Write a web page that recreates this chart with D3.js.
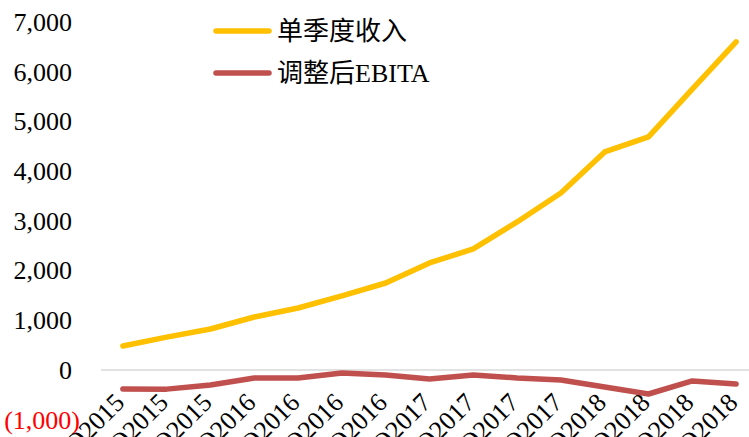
<!DOCTYPE html>
<html>
<head>
<meta charset="utf-8">
<script src="https://cdn.jsdelivr.net/npm/d3@7"></script>
<style>
    body { margin: 0; background: #fff; overflow: hidden; }
    svg { display: block; }
    text { font-family: "Liberation Serif", "Noto Sans CJK SC", serif; }
</style>
</head>
<body>
<svg id="chart"></svg>
<script>
const width = 749;
const height = 437;

// Quarter labels
const quarters = ['2Q2015', '3Q2015', '4Q2015', '1Q2016', '2Q2016', '3Q2016', '4Q2016',
    '1Q2017', '2Q2017', '3Q2017', '4Q2017', '1Q2018', '2Q2018', '3Q2018', '4Q2018'];

// Series values
const revenue = [483, 660, 825, 1066, 1247, 1489, 1750, 2153, 2435, 2978, 3561, 4386, 4688, 5650, 6600];
const ebita = [-382, -385, -302, -161, -161, -60, -100, -181, -100, -161, -201, -342, -483, -221, -282];

const seriesNames = ['单季度收入', '调整后EBITA'];
const seriesColors = ['#FFC000', '#C0504D'];
const yTicks = [-1000, 0, 1000, 2000, 3000, 4000, 5000, 6000, 7000];

const svg = d3.select("#chart")
    .attr("width", width)
    .attr("height", height);

const x = d3.scaleBand()
    .domain(quarters)
    .range([101, 758]);

const y = d3.scaleLinear()
    .domain([-1000, 7000])
    .range([419.7, 22]);

// zero line
svg.append("line")
    .attr("x1", 101)
    .attr("x2", width)
    .attr("y1", y(0))
    .attr("y2", y(0))
    .style("stroke", "#d9d9d9")
    .style("stroke-width", 1.5);

// y axis labels
const yAxis = svg.append("g")
    .attr("transform", "translate(72,0)")
    .call(d3.axisLeft(y).tickValues(yTicks).tickSize(0).tickPadding(0)
        .tickFormat(d => d < 0 ? `(${d3.format(",")(-d)})` : d3.format(",")(d)));
yAxis.select(".domain").remove();
yAxis.selectAll("text")
    .attr("x", d => d < 0 ? 8 : 0)
    .style("font-size", "26px")
    .style("font-family", "Liberation Serif")
    .style("fill", d => d < 0 ? "#ff0000" : "#000");

// x labels (rotated)
svg.selectAll(".xlabel")
    .data(quarters)
    .enter()
    .append("text")
    .attr("class", "xlabel")
    .attr("transform", d => `translate(${x(d) + x.bandwidth() / 2 + 3},404) rotate(-45)`)
    .attr("text-anchor", "end")
    .style("font-size", "26px")
    .style("fill", "#000")
    .text(d => d);

// lines
const line = d3.line()
    .x((d, i) => x(quarters[i]) + x.bandwidth() / 2)
    .y(d => y(d));

[revenue, ebita].forEach((vals, i) => {
    svg.append("path")
        .datum(vals)
        .attr("d", line)
        .style("fill", "none")
        .style("stroke", seriesColors[i])
        .style("stroke-width", 5.5)
        .style("stroke-linecap", "round")
        .style("stroke-linejoin", "round");
});

// legend
const legend = svg.append("g");
seriesNames.forEach((name, i) => {
    const ly = 31 + i * 42;
    legend.append("line")
        .attr("x1", 216)
        .attr("x2", 269)
        .attr("y1", ly)
        .attr("y2", ly)
        .style("stroke", seriesColors[i])
        .style("stroke-width", 5.5)
        .style("stroke-linecap", "round");
    legend.append("text")
        .attr("x", 277)
        .attr("y", ly)
        .attr("dy", "0.35em")
        .style("font-size", "26px")
        .style("fill", "#000")
        .text(name);
});
</script>
</body>
</html>
